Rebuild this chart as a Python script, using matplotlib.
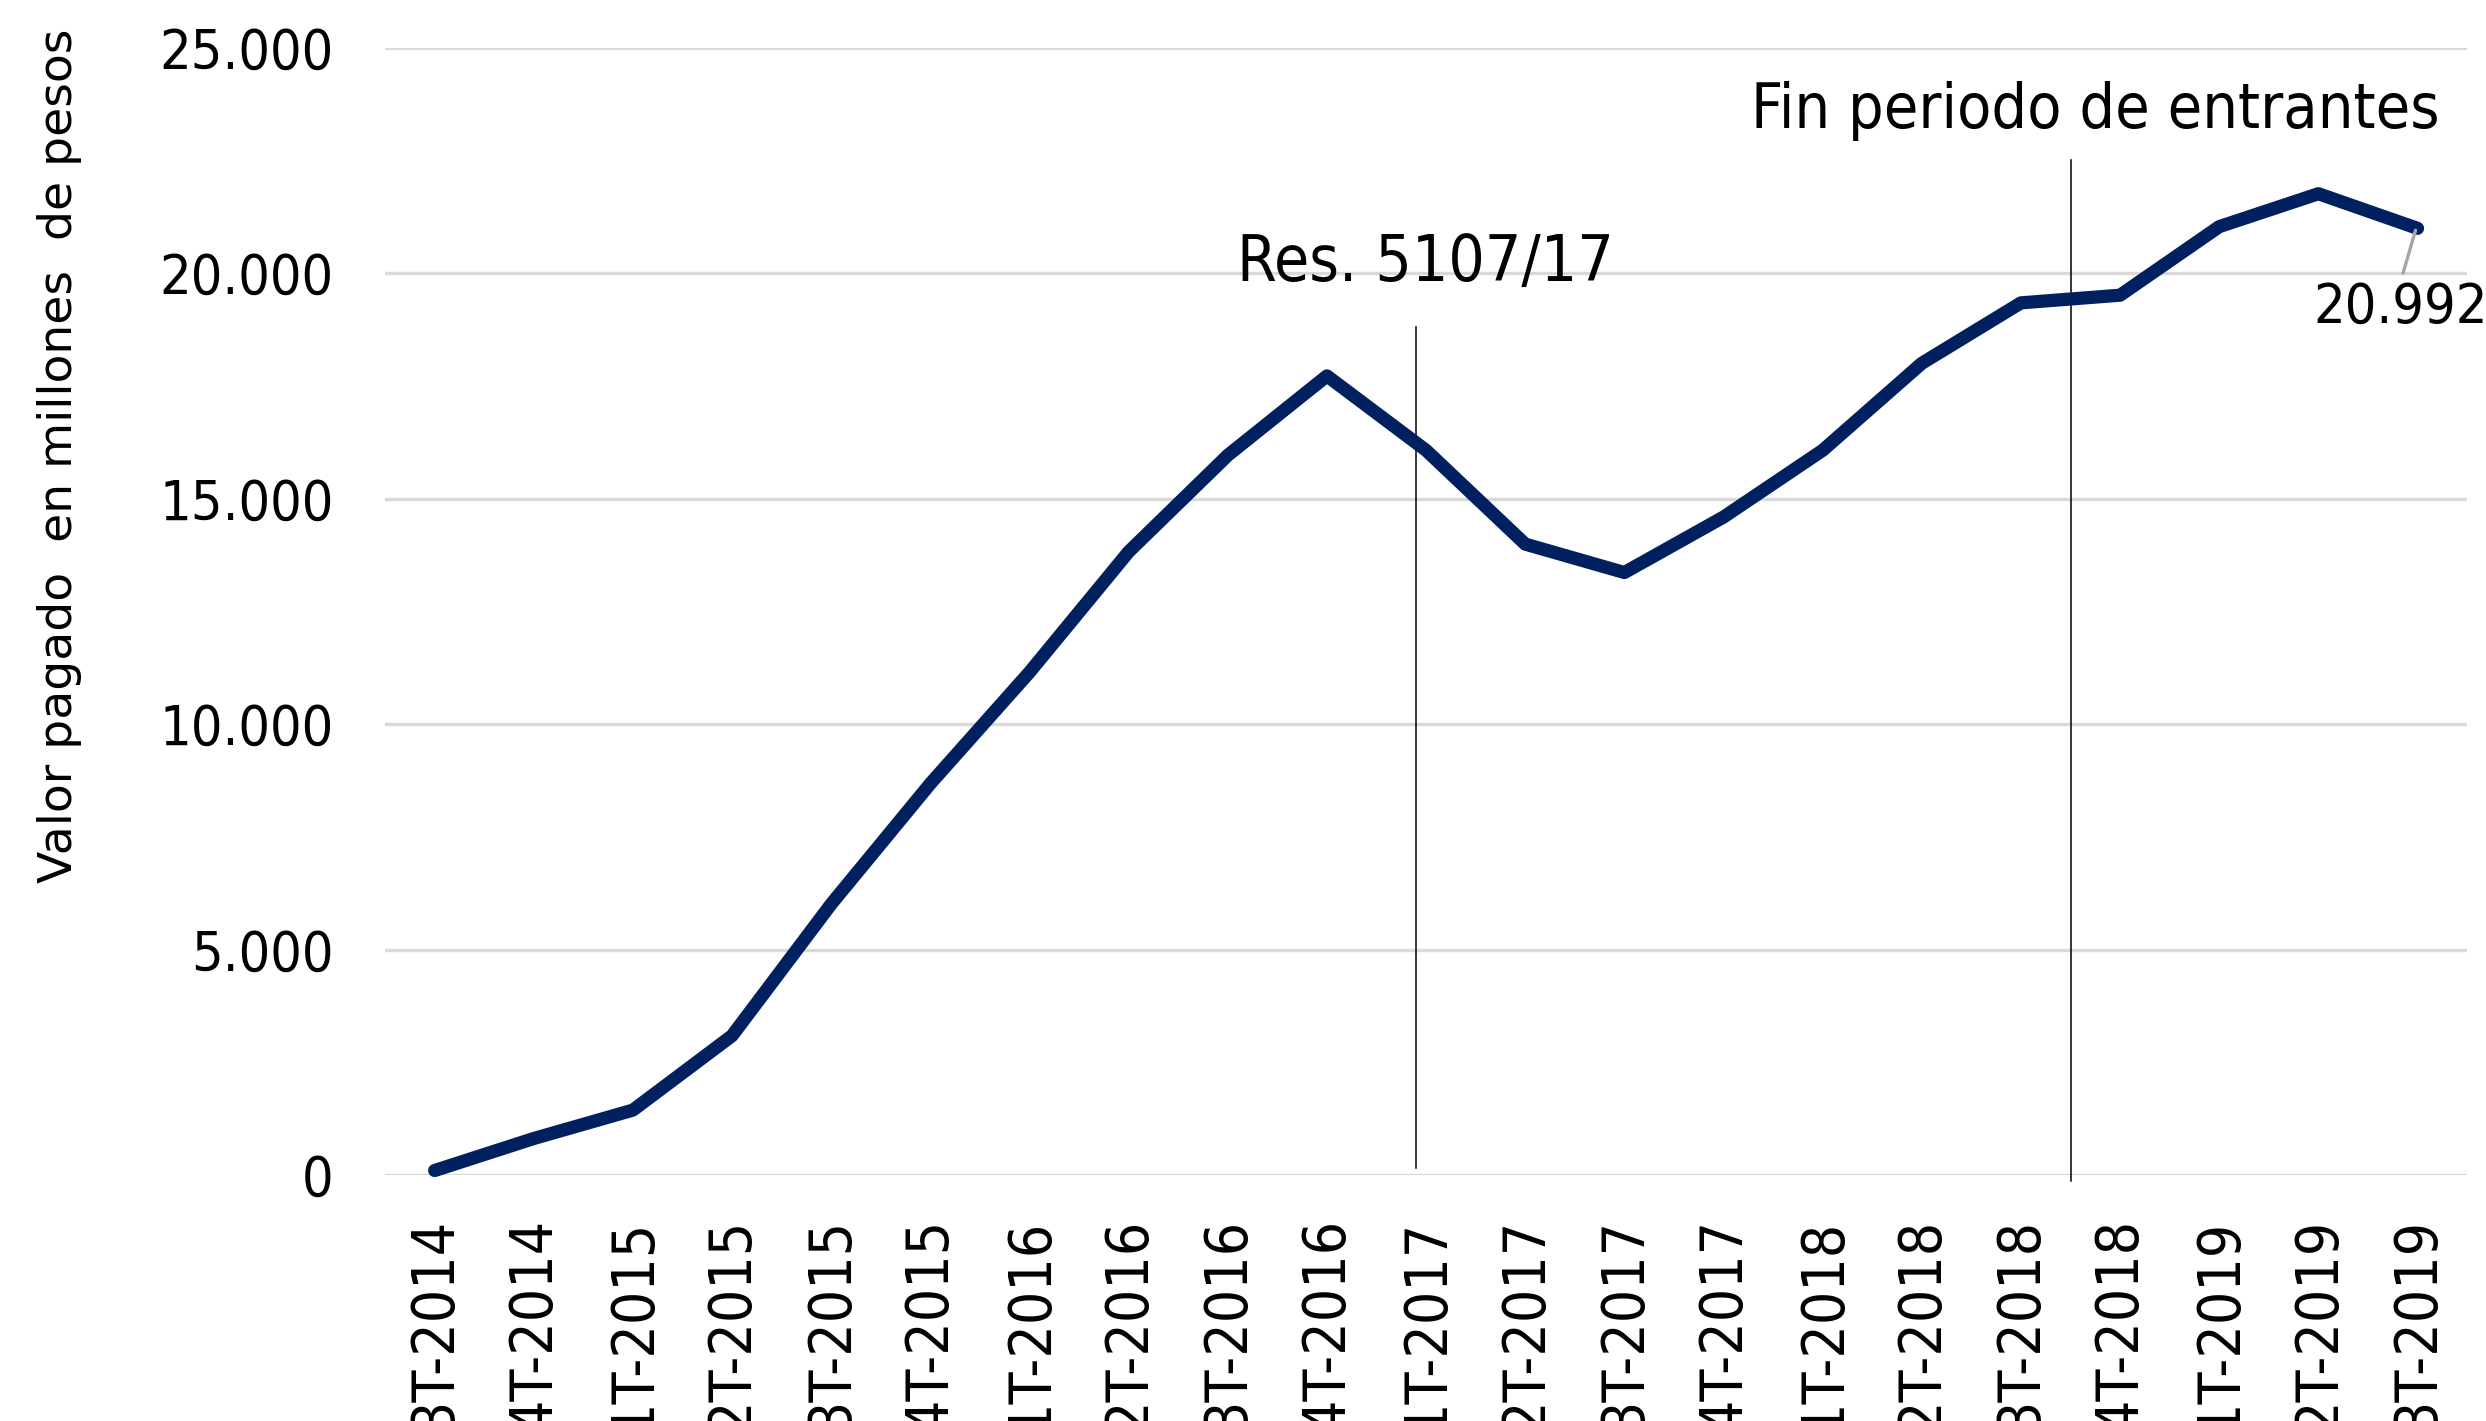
import matplotlib.pyplot as plt

# quarters and paid value (millions of pesos)
trimestres = ['3T-2014', '4T-2014', '1T-2015', '2T-2015', '3T-2015', '4T-2015',
              '1T-2016', '2T-2016', '3T-2016', '4T-2016', '1T-2017', '2T-2017',
              '3T-2017', '4T-2017', '1T-2018', '2T-2018', '3T-2018', '4T-2018',
              '1T-2019', '2T-2019', '3T-2019']
valor = [100, 810, 1440, 3090, 6010, 8680, 11150, 13820, 15960, 17720, 16070,
         13990, 13360, 14590, 16070, 18000, 19340, 19510, 21030, 21760, 20992]
y_ticks = [0, 5000, 10000, 15000, 20000, 25000]
y_tick_labels = ['0', '5.000', '10.000', '15.000', '20.000', '25.000']

fig = plt.figure(figsize=(24.86, 14.21), dpi=100)
ax = fig.add_axes([0.1549, 0.1731, 0.8375, 0.7934])

x = list(range(len(trimestres)))
ax.plot(x, valor, color='#002060', lw=9.5, solid_capstyle='round',
        solid_joinstyle='round', clip_on=False, zorder=3)

ax.set_xlim(-0.5, len(trimestres) - 0.5)
ax.set_ylim(0, 25000)
ax.set_yticks(y_ticks)
ax.set_yticklabels(y_tick_labels, fontsize=40, fontstretch='condensed')
ax.set_xticks(x)
ax.set_xticklabels(trimestres, rotation=90, fontsize=42, va='top',
                   fontstretch='condensed')
ax.tick_params(axis='both', length=0)
ax.tick_params(axis='y', pad=37)
ax.tick_params(axis='x', pad=31)
ax.yaxis.grid(True, color='#d9d9d9', lw=2.4)
ax.set_axisbelow(True)
for s in ax.spines.values():
    s.set_visible(False)

# event markers
ax.plot([9.9, 9.9], [150, 18810], color='black', lw=1.1, zorder=2)
ax.text(9.99, 20230, 'Res. 5107/17', fontsize=46, fontstretch='condensed',
        ha='center', va='center')
ax.plot([16.5, 16.5], [-140, 22500], color='black', lw=1.1, zorder=2, clip_on=False)
ax.text(16.75, 23600, 'Fin periodo de entrantes', fontsize=45,
        fontstretch='condensed', ha='center', va='center')

# last value label
ax.annotate('20.992', xy=(19.98, 20950), xytext=(19.83, 19220),
            fontsize=40, fontstretch='condensed', ha='center', va='center',
            arrowprops=dict(arrowstyle='-', color='#a6a6a6', lw=2.4,
                            relpos=(0.5, 1.0), shrinkA=4, shrinkB=0))

fig.text(0.024, 0.679, 'Valor pagado  en millones  de pesos', rotation=90,
         fontsize=34, ha='center', va='center')

fig.savefig('out.png', dpi=100)
